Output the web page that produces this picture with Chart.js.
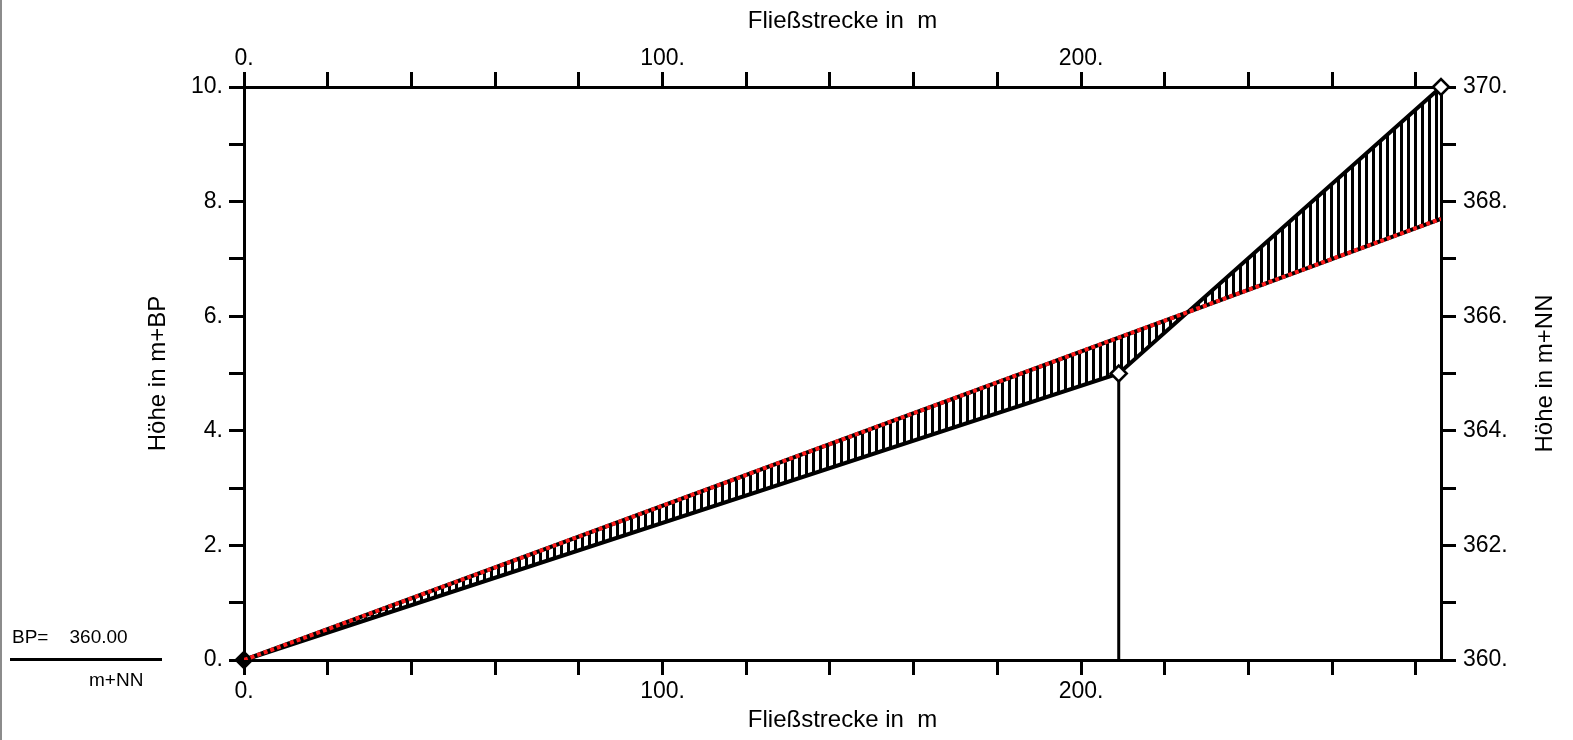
<!DOCTYPE html>
<html>
<head>
<meta charset="utf-8">
<script src="https://cdn.jsdelivr.net/npm/chart.js@4"></script>
<style>
  html, body { margin: 0; padding: 0; background: #fff; }
  #wrap { position: relative; width: 1573px; height: 740px; }
  #frame { position: absolute; left: 0; top: 0; width: 2px; height: 740px; background: #8c8c8c; }
  .bp { position: absolute; font-family: 'Liberation Sans', Arial, sans-serif; font-size: 19px; color: #000; white-space: pre; }
  #bpLine { position: absolute; left: 10px; top: 658px; width: 152px; height: 3px; background: #000; }
</style>
</head>
<body>
<div id="wrap">
  <canvas id="profilechart" width="1573" height="740"></canvas>
  <div id="frame"></div>
  <div class="bp" style="left:12px; top:626px;">BP=    360.00</div>
  <div id="bpLine"></div>
  <div class="bp" style="left:89px; top:669px;">m+NN</div>
</div>
<script>
// Profile data
const sohleX = [0, 209, 286];        // Fließstrecke in m
const sohleY = [0, 5, 10];           // Höhe in m+BP
const gefaelleX = [0, 286];
const gefaelleY = [0, 7.7];
const lotX = [209, 209];
const lotY = [0, 5];

const xMin = 0, xMax = 286;
const yMin = 0, yMax = 10;
const nnMin = 360, nnMax = 370;

const FONT = "'Liberation Sans', Arial, sans-serif";

function toPoints(xs, ys) {
  return xs.map((x, i) => ({ x: x, y: ys[i] }));
}

// vertical hatch pattern
const patCanvas = document.createElement('canvas');
patCanvas.width = 7;
patCanvas.height = 1;
const pctx = patCanvas.getContext('2d');
pctx.fillStyle = '#000';
pctx.fillRect(0, 0, 3, 1);
const hatch = pctx.createPattern(patCanvas, 'repeat');

// right title reads bottom-to-top like the left one
const rightTitle = {
  id: 'rightTitle',
  afterDraw(chart) {
    const c = chart.ctx;
    const area = chart.chartArea;
    c.save();
    c.translate(1545, (area.top + area.bottom) / 2);
    c.rotate(-Math.PI / 2);
    c.fillStyle = '#000';
    c.font = '24px ' + FONT;
    c.textAlign = 'center';
    c.textBaseline = 'middle';
    c.fillText('Höhe in m+NN', 0, 0);
    c.restore();
  }
};

function axisCommon(label, cb, step, min, max, position, extra, pad) {
  return Object.assign({
    type: 'linear',
    position: position,
    min: min,
    max: max,
    border: { display: true, color: '#000', width: 3 },
    grid: { drawOnChartArea: false, color: '#000', lineWidth: 3, tickLength: 15, tickColor: '#000', tickWidth: 3 },
    ticks: {
      stepSize: step,
      autoSkip: false,
      includeBounds: false,
      maxRotation: 0,
      padding: pad,
      color: '#000',
      font: { family: FONT, size: 23 },
      callback: cb
    },
    title: { display: !!label, text: label, color: '#000', font: { family: FONT, size: 24 } }
  }, extra || {});
}

const ctx = document.getElementById('profilechart');
new Chart(ctx, {
  type: 'line',
  data: {
    datasets: [
      {
        label: 'Sohle',
        data: toPoints(sohleX, sohleY),
        borderColor: '#000',
        borderWidth: 4,
        backgroundColor: hatch,
        fill: { target: 1, above: hatch, below: hatch },
        pointStyle: 'rectRot',
        pointRadius: 8,
        pointBorderWidth: 2.5,
        pointBorderColor: '#000',
        pointBackgroundColor: ['#000', '#fff', '#fff'],
        tension: 0,
        clip: false,
        order: 3
      },
      {
        label: 'Gefälle',
        data: toPoints(gefaelleX, gefaelleY),
        borderColor: '#000',
        borderWidth: 4,
        pointRadius: 0,
        fill: false,
        tension: 0,
        order: 2
      },
      {
        label: 'Gefälle rot',
        data: toPoints(gefaelleX, gefaelleY),
        borderColor: '#ff1a1a',
        borderWidth: 4,
        borderDash: [4, 3],
        pointRadius: 0,
        fill: false,
        tension: 0,
        order: 1
      },
      {
        label: 'Lot',
        data: toPoints(lotX, lotY),
        borderColor: '#000',
        borderWidth: 3,
        pointRadius: 0,
        fill: false,
        order: 4
      }
    ]
  },
  options: {
    responsive: false,
    animation: false,
    layout: { padding: { left: 140, right: 17, top: 3, bottom: 1 } },
    plugins: {
      legend: { display: false },
      tooltip: { enabled: false }
    },
    scales: {
      x: axisCommon('Fließstrecke in  m', v => (v % 100 === 0 ? v + '.' : ''), 20, xMin, xMax, 'bottom', {
        afterFit: s => { s.height = 79; }
      }, 3),
      xTop: axisCommon('Fließstrecke in  m', v => (v % 100 === 0 ? v + '.' : ''), 20, xMin, xMax, 'top', {
        afterFit: s => { s.height = 84; }
      }, 0),
      y: axisCommon('Höhe in m+BP', v => (v % 2 === 0 ? v + '.' : ''), 1, yMin, yMax, 'left', {
        afterFit: s => { s.width = 104; }
      }, 6),
      yRight: axisCommon('', v => (v % 2 === 0 ? v + '.' : ''), 1, nnMin, nnMax, 'right', {
        afterFit: s => { s.width = 115; }
      }, 7)
    }
  },
  plugins: [rightTitle]
});
</script>
</body>
</html>
